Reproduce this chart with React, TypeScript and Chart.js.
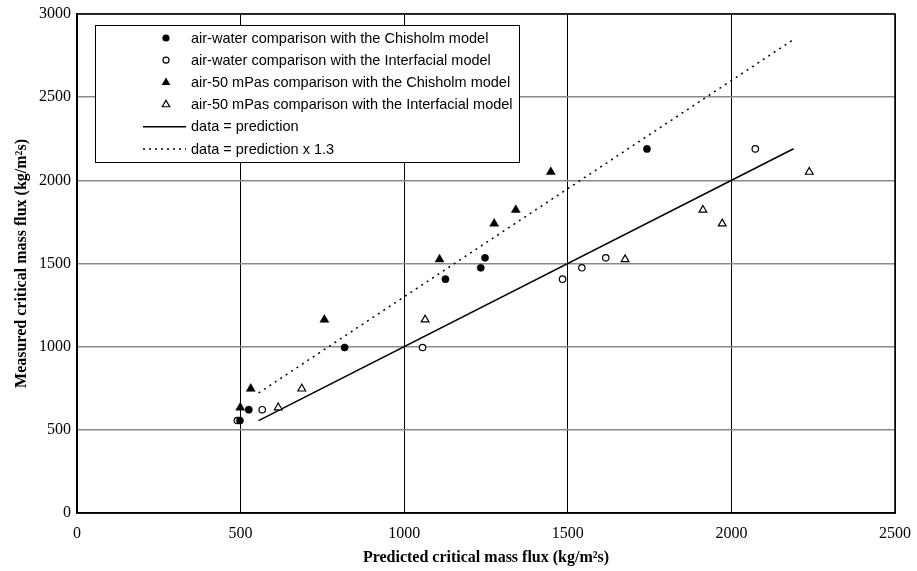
import { useEffect, useRef } from "react";
import { Chart, registerables } from "chart.js";

Chart.register(...registerables);

// Measured critical mass flux for each test series (kg/m²s)
const airWaterMeasured = [556, 621, 995, 1406, 1474, 1534, 2189];
// Predicted critical mass flux for the same runs
const airWaterChisholm = [498, 525, 818, 1126, 1234, 1247, 1742];
const airWaterInterfacial = [490, 566, 1056, 1484, 1543, 1616, 2073];

const viscousMeasured = [634, 747, 1162, 1525, 1740, 1822, 2050];
const viscousChisholm = [499, 531, 756, 1108, 1275, 1341, 1448];
const viscousInterfacial = [615, 687, 1064, 1675, 1972, 1913, 2238];

// Reference lines: data = prediction, data = prediction x 1.3
const parityRange = [555, 2190];
const upperFactor = 1.3;

const xTicks = [0, 500, 1000, 1500, 2000, 2500];
const yTicks = [0, 500, 1000, 1500, 2000, 2500, 3000];

const seriesLabels = [
  "air-water comparison with the Chisholm model",
  "air-water comparison with the Interfacial model",
  "air-50 mPas comparison with the Chisholm model",
  "air-50 mPas comparison with the Interfacial model",
  "data = prediction",
  "data = prediction x 1.3",
];

const pair = (xs: number[], ys: number[]) => xs.map((x, i) => ({ x, y: ys[i] }));

const SERIF = '"Liberation Serif", "Times New Roman", serif';
const SANS = '"Liberation Sans", Arial, sans-serif';

const frameAndLegend = {
  id: "frameAndLegend",
  afterDraw(chart: any) {
    const { ctx, chartArea } = chart;
    const { left, right, top, bottom } = chartArea;
    ctx.save();

    // plot frame
    ctx.strokeStyle = "#000";
    ctx.lineWidth = 1.5;
    ctx.strokeRect(left, top, right - left, bottom - top);

    // legend box
    const bx = 95, by = 25, bw = 424, bh = 137;
    ctx.fillStyle = "#fff";
    ctx.fillRect(bx, by, bw, bh);
    ctx.lineWidth = 1;
    ctx.strokeStyle = "#000";
    ctx.strokeRect(bx + 0.5, by + 0.5, bw, bh);

    const markX = 166;
    const textX = 191;
    const rowY = (i: number) => 38 + i * 22.2;
    ctx.font = `14.5px ${SANS}`;
    ctx.textBaseline = "middle";
    ctx.textAlign = "left";

    seriesLabels.forEach((label, i) => {
      const y = rowY(i);
      ctx.fillStyle = "#000";
      ctx.strokeStyle = "#000";
      ctx.setLineDash([]);
      if (i === 0 || i === 1) {
        ctx.beginPath();
        ctx.arc(markX, y, i === 0 ? 3.6 : 3, 0, Math.PI * 2);
        if (i === 0) ctx.fill();
        else {
          ctx.lineWidth = 1.2;
          ctx.stroke();
        }
      } else if (i === 2 || i === 3) {
        const r = i === 2 ? 5 : 4.3;
        ctx.beginPath();
        ctx.moveTo(markX, y - r);
        ctx.lineTo(markX + r * 0.866, y + r / 2);
        ctx.lineTo(markX - r * 0.866, y + r / 2);
        ctx.closePath();
        if (i === 2) ctx.fill();
        else {
          ctx.lineWidth = 1.2;
          ctx.stroke();
        }
      } else {
        ctx.lineWidth = 1.5;
        if (i === 5) ctx.setLineDash([2, 4]);
        ctx.beginPath();
        ctx.moveTo(143, y);
        ctx.lineTo(186, y);
        ctx.stroke();
        ctx.setLineDash([]);
      }
      ctx.fillStyle = "#000";
      ctx.fillText(label, textX, y + 0.5);
    });

    // axis titles
    ctx.font = `bold 16px ${SERIF}`;
    ctx.textAlign = "center";
    ctx.textBaseline = "middle";
    ctx.fillText("Predicted critical mass flux (kg/m²s)", (left + right) / 2, 558);
    ctx.translate(22, (top + bottom) / 2);
    ctx.rotate(-Math.PI / 2);
    ctx.fillText("Measured critical mass flux (kg/m²s)", 0, 0);
    ctx.restore();
  },
};

export default function App() {
  const canvasRef = useRef<HTMLCanvasElement | null>(null);

  useEffect(() => {
    const canvas = canvasRef.current;
    if (!canvas) return;

    const chart = new Chart(canvas, {
      type: "scatter",
      data: {
        datasets: [
          {
            label: seriesLabels[0],
            data: pair(airWaterChisholm, airWaterMeasured),
            pointStyle: "circle",
            pointRadius: 3.6,
            backgroundColor: "#000",
            borderColor: "#000",
            borderWidth: 0.5,
          },
          {
            label: seriesLabels[1],
            data: pair(airWaterInterfacial, airWaterMeasured),
            pointStyle: "circle",
            pointRadius: 3.2,
            backgroundColor: "#fff",
            borderColor: "#000",
            borderWidth: 1.2,
          },
          {
            label: seriesLabels[2],
            data: pair(viscousChisholm, viscousMeasured),
            pointStyle: "triangle",
            pointRadius: 5.2,
            backgroundColor: "#000",
            borderColor: "#000",
            borderWidth: 0.5,
          },
          {
            label: seriesLabels[3],
            data: pair(viscousInterfacial, viscousMeasured),
            pointStyle: "triangle",
            pointRadius: 4.5,
            backgroundColor: "#fff",
            borderColor: "#000",
            borderWidth: 1.2,
          },
          {
            label: seriesLabels[4],
            data: parityRange.map((x) => ({ x, y: x })),
            showLine: true,
            pointRadius: 0,
            borderColor: "#000",
            borderWidth: 1.5,
          },
          {
            label: seriesLabels[5],
            data: parityRange.map((x) => ({ x, y: x * upperFactor })),
            showLine: true,
            pointRadius: 0,
            borderColor: "#000",
            borderWidth: 1.5,
            borderDash: [2, 4.5],
          },
        ],
      },
      options: {
        animation: false,
        responsive: false,
        events: [],
        layout: { padding: { top: 14, right: 22, left: 0, bottom: 0 } },
        plugins: {
          legend: { display: false },
          tooltip: { enabled: false },
        },
        scales: {
          x: {
            type: "linear",
            min: 0,
            max: 2500,
            afterBuildTicks: (s: any) => {
              s.ticks = xTicks.map((value) => ({ value }));
            },
            afterFit: (s: any) => {
              s.height = 58;
              s.paddingLeft = 0;
              s.paddingRight = 0;
            },
            ticks: {
              color: "#000",
              padding: 11,
              maxRotation: 0,
              font: { family: SERIF, size: 16 },
              callback: (v: any) => String(v),
            },
            grid: { color: "#000", lineWidth: 1, drawTicks: false },
            border: { display: true, color: "#000", width: 1.5 },
          },
          y: {
            type: "linear",
            min: 0,
            max: 3000,
            afterBuildTicks: (s: any) => {
              s.ticks = yTicks.map((value) => ({ value }));
            },
            afterFit: (s: any) => {
              s.width = 77;
              s.paddingTop = 0;
              s.paddingBottom = 0;
            },
            ticks: {
              color: "#000",
              padding: 6,
              font: { family: SERIF, size: 16 },
              callback: (v: any) => String(v),
            },
            grid: { color: "#8a8a8a", lineWidth: 1.6, drawTicks: false },
            border: { display: true, color: "#000", width: 1.5 },
          },
        },
      },
      plugins: [frameAndLegend],
    });

    return () => chart.destroy();
  }, []);

  return (
    <div style={{ position: "absolute", left: 0, top: 0, width: 917, height: 571, background: "#fff" }}>
      <canvas ref={canvasRef} width={917} height={571} />
    </div>
  );
}
